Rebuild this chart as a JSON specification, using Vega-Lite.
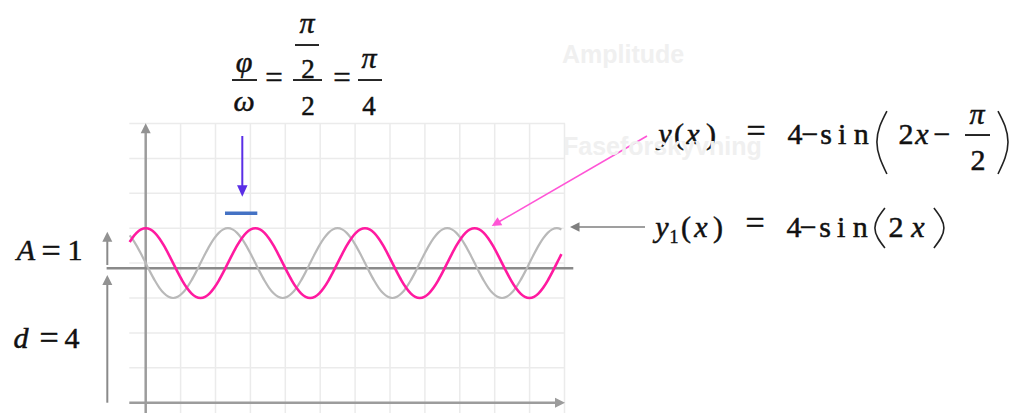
{
  "$schema": "https://vega.github.io/schema/vega-lite/v6.json",
  "width": 1018,
  "height": 413,
  "padding": 0,
  "autosize": {"type": "none"},
  "background": "white",
  "config": {"view": {"stroke": null}},
  "datasets": {
    "curve": [
      {"x": -0.46, "g": 4.7956, "p": 4.6058},
      {"x": -0.3927, "g": 4.7071, "p": 4.7071},
      {"x": -0.2618, "g": 4.5, "p": 4.866},
      {"x": -0.1309, "g": 4.2588, "p": 4.9659},
      {"x": 0, "g": 4, "p": 5},
      {"x": 0.1309, "g": 3.7412, "p": 4.9659},
      {"x": 0.2618, "g": 3.5, "p": 4.866},
      {"x": 0.3927, "g": 3.2929, "p": 4.7071},
      {"x": 0.5236, "g": 3.134, "p": 4.5},
      {"x": 0.6545, "g": 3.0341, "p": 4.2588},
      {"x": 0.7854, "g": 3, "p": 4},
      {"x": 0.9163, "g": 3.0341, "p": 3.7412},
      {"x": 1.0472, "g": 3.134, "p": 3.5},
      {"x": 1.1781, "g": 3.2929, "p": 3.2929},
      {"x": 1.309, "g": 3.5, "p": 3.134},
      {"x": 1.4399, "g": 3.7412, "p": 3.0341},
      {"x": 1.5708, "g": 4, "p": 3},
      {"x": 1.7017, "g": 4.2588, "p": 3.0341},
      {"x": 1.8326, "g": 4.5, "p": 3.134},
      {"x": 1.9635, "g": 4.7071, "p": 3.2929},
      {"x": 2.0944, "g": 4.866, "p": 3.5},
      {"x": 2.2253, "g": 4.9659, "p": 3.7412},
      {"x": 2.3562, "g": 5, "p": 4},
      {"x": 2.4871, "g": 4.9659, "p": 4.2588},
      {"x": 2.618, "g": 4.866, "p": 4.5},
      {"x": 2.7489, "g": 4.7071, "p": 4.7071},
      {"x": 2.8798, "g": 4.5, "p": 4.866},
      {"x": 3.0107, "g": 4.2588, "p": 4.9659},
      {"x": 3.1416, "g": 4, "p": 5},
      {"x": 3.2725, "g": 3.7412, "p": 4.9659},
      {"x": 3.4034, "g": 3.5, "p": 4.866},
      {"x": 3.5343, "g": 3.2929, "p": 4.7071},
      {"x": 3.6652, "g": 3.134, "p": 4.5},
      {"x": 3.7961, "g": 3.0341, "p": 4.2588},
      {"x": 3.927, "g": 3, "p": 4},
      {"x": 4.0579, "g": 3.0341, "p": 3.7412},
      {"x": 4.1888, "g": 3.134, "p": 3.5},
      {"x": 4.3197, "g": 3.2929, "p": 3.2929},
      {"x": 4.4506, "g": 3.5, "p": 3.134},
      {"x": 4.5815, "g": 3.7412, "p": 3.0341},
      {"x": 4.7124, "g": 4, "p": 3},
      {"x": 4.8433, "g": 4.2588, "p": 3.0341},
      {"x": 4.9742, "g": 4.5, "p": 3.134},
      {"x": 5.1051, "g": 4.7071, "p": 3.2929},
      {"x": 5.236, "g": 4.866, "p": 3.5},
      {"x": 5.3669, "g": 4.9659, "p": 3.7412},
      {"x": 5.4978, "g": 5, "p": 4},
      {"x": 5.6287, "g": 4.9659, "p": 4.2588},
      {"x": 5.7596, "g": 4.866, "p": 4.5},
      {"x": 5.8905, "g": 4.7071, "p": 4.7071},
      {"x": 6.0214, "g": 4.5, "p": 4.866},
      {"x": 6.1523, "g": 4.2588, "p": 4.9659},
      {"x": 6.2832, "g": 4, "p": 5},
      {"x": 6.4141, "g": 3.7412, "p": 4.9659},
      {"x": 6.545, "g": 3.5, "p": 4.866},
      {"x": 6.6759, "g": 3.2929, "p": 4.7071},
      {"x": 6.8068, "g": 3.134, "p": 4.5},
      {"x": 6.9377, "g": 3.0341, "p": 4.2588},
      {"x": 7.0686, "g": 3, "p": 4},
      {"x": 7.1995, "g": 3.0341, "p": 3.7412},
      {"x": 7.3304, "g": 3.134, "p": 3.5},
      {"x": 7.4613, "g": 3.2929, "p": 3.2929},
      {"x": 7.5922, "g": 3.5, "p": 3.134},
      {"x": 7.7231, "g": 3.7412, "p": 3.0341},
      {"x": 7.854, "g": 4, "p": 3},
      {"x": 7.9849, "g": 4.2588, "p": 3.0341},
      {"x": 8.1158, "g": 4.5, "p": 3.134},
      {"x": 8.2467, "g": 4.7071, "p": 3.2929},
      {"x": 8.3776, "g": 4.866, "p": 3.5},
      {"x": 8.5085, "g": 4.9659, "p": 3.7412},
      {"x": 8.6394, "g": 5, "p": 4},
      {"x": 8.7703, "g": 4.9659, "p": 4.2588},
      {"x": 8.9012, "g": 4.866, "p": 4.5},
      {"x": 9.0321, "g": 4.7071, "p": 4.7071},
      {"x": 9.163, "g": 4.5, "p": 4.866},
      {"x": 9.2939, "g": 4.2588, "p": 4.9659},
      {"x": 9.4248, "g": 4, "p": 5},
      {"x": 9.5557, "g": 3.7412, "p": 4.9659},
      {"x": 9.6866, "g": 3.5, "p": 4.866},
      {"x": 9.8175, "g": 3.2929, "p": 4.7071},
      {"x": 9.9484, "g": 3.134, "p": 4.5},
      {"x": 10.0793, "g": 3.0341, "p": 4.2588},
      {"x": 10.2102, "g": 3, "p": 4},
      {"x": 10.3411, "g": 3.0341, "p": 3.7412},
      {"x": 10.472, "g": 3.134, "p": 3.5},
      {"x": 10.6029, "g": 3.2929, "p": 3.2929},
      {"x": 10.7338, "g": 3.5, "p": 3.134},
      {"x": 10.8647, "g": 3.7412, "p": 3.0341},
      {"x": 10.9956, "g": 4, "p": 3},
      {"x": 11.1265, "g": 4.2588, "p": 3.0341},
      {"x": 11.2574, "g": 4.5, "p": 3.134},
      {"x": 11.3883, "g": 4.7071, "p": 3.2929},
      {"x": 11.5192, "g": 4.866, "p": 3.5},
      {"x": 11.6501, "g": 4.9659, "p": 3.7412},
      {"x": 11.781, "g": 5, "p": 4},
      {"x": 11.9119, "g": 4.9659, "p": 4.2588}
    ],
    "gridv": [{"x": 1}, {"x": 2}, {"x": 3}, {"x": 4}, {"x": 5}, {"x": 6}, {"x": 7}, {"x": 8}, {"x": 9}, {"x": 10}, {"x": 11}, {"x": 12}],
    "gridh": [{"y": 1}, {"y": 2}, {"y": 3}, {"y": 4}, {"y": 5}, {"y": 6}, {"y": 7}, {"y": 8}],
    "segs": [
      {"k": "axis", "x": 0, "y": -0.3, "x2": 0, "y2": 7.8},
      {"k": "axis", "x": -0.47, "y": 0, "x2": 11.8, "y2": 0},
      {"k": "mid", "x": -1.12, "y": 3.851, "x2": 12.252, "y2": 3.851},
      {"k": "dim", "x": -1.1, "y": 3.946, "x2": -1.1, "y2": 4.7},
      {"k": "dim", "x": -1.1, "y": 0, "x2": -1.1, "y2": 3.45},
      {"k": "blue", "x": 2.768, "y": 7.642, "x2": 2.768, "y2": 6.1},
      {"k": "bar", "x": 2.272, "y": 5.427, "x2": 3.198, "y2": 5.427},
      {"k": "gray", "x": 12.35, "y": 5.034, "x2": 14.307, "y2": 5.034},
      {"k": "pink", "x": 14.364, "y": 7.642, "x2": 10.087, "y2": 5.163},
      {"k": "black", "x": 2.473, "y": 9.246, "x2": 3.189, "y2": 9.246},
      {"k": "black", "x": 4.278, "y": 10.249, "x2": 4.966, "y2": 10.249},
      {"k": "black", "x": 4.221, "y": 9.246, "x2": 5.052, "y2": 9.246},
      {"k": "black", "x": 6.083, "y": 9.246, "x2": 6.771, "y2": 9.246},
      {"k": "black", "x": 23.476, "y": 7.67, "x2": 24.192, "y2": 7.67}
    ],
    "heads": [
      {"k": "up", "x": 0, "y": 8.006},
      {"k": "up", "x": -1.1, "y": 4.9},
      {"k": "up", "x": -1.1, "y": 3.659},
      {"k": "right", "x": 12.014, "y": 0},
      {"k": "down", "x": 2.768, "y": 5.903},
      {"k": "left", "x": 12.158, "y": 5.034},
      {"k": "pink", "x": 9.914, "y": 5.063}
    ],
    "parens": [
      {"g": "a", "i": 0, "x": 21.238, "y": 8.358},
      {"g": "a", "i": 1, "x": 21.037, "y": 7.928},
      {"g": "a", "i": 2, "x": 20.951, "y": 7.47},
      {"g": "a", "i": 3, "x": 21.037, "y": 7.011},
      {"g": "a", "i": 4, "x": 21.238, "y": 6.553},
      {"g": "b", "i": 0, "x": 24.421, "y": 8.358},
      {"g": "b", "i": 1, "x": 24.622, "y": 7.928},
      {"g": "b", "i": 2, "x": 24.708, "y": 7.47},
      {"g": "b", "i": 3, "x": 24.622, "y": 7.011},
      {"g": "b", "i": 4, "x": 24.421, "y": 6.553},
      {"g": "c", "i": 0, "x": 21.181, "y": 5.579},
      {"g": "c", "i": 1, "x": 20.98, "y": 5.292},
      {"g": "c", "i": 2, "x": 20.894, "y": 5.006},
      {"g": "c", "i": 3, "x": 20.98, "y": 4.719},
      {"g": "c", "i": 4, "x": 21.181, "y": 4.433},
      {"g": "d", "i": 0, "x": 22.585, "y": 5.579},
      {"g": "d", "i": 1, "x": 22.785, "y": 5.292},
      {"g": "d", "i": 2, "x": 22.871, "y": 5.006},
      {"g": "d", "i": 3, "x": 22.785, "y": 4.719},
      {"g": "d", "i": 4, "x": 22.585, "y": 4.433}
    ],
    "texts": [
      {"s": "gr", "t": "φ", "x": 2.817, "y": 9.476},
      {"s": "gr", "t": "ω", "x": 2.817, "y": 8.358},
      {"s": "gr", "t": "π", "x": 4.622, "y": 10.593},
      {"s": "gr", "t": "π", "x": 6.398, "y": 9.59},
      {"s": "eq2", "t": "=", "x": 3.676, "y": 9.006},
      {"s": "up25", "t": "2", "x": 4.65, "y": 9.304},
      {"s": "up25", "t": "2", "x": 4.65, "y": 8.244},
      {"s": "eq2", "t": "=", "x": 5.625, "y": 9.006},
      {"s": "up25", "t": "4", "x": 6.398, "y": 8.244},
      {"s": "it27", "t": "y", "x": 14.88, "y": 7.413},
      {"s": "it27", "t": "x", "x": 15.682, "y": 7.413},
      {"s": "it27", "t": "x", "x": 22.244, "y": 7.413},
      {"s": "it27", "t": "π", "x": 23.819, "y": 7.986},
      {"s": "it27", "t": "y", "x": 14.794, "y": 4.748},
      {"s": "it27", "t": "x", "x": 15.911, "y": 4.748},
      {"s": "it27", "t": "x", "x": 22.129, "y": 4.748},
      {"s": "it27", "t": "A", "x": -3.43, "y": 4.089},
      {"s": "it27", "t": "d", "x": -3.573, "y": 1.567},
      {"s": "up27", "t": "(", "x": 15.281, "y": 7.413},
      {"s": "up27", "t": ")", "x": 16.198, "y": 7.413},
      {"s": "eq", "t": "=", "x": 17.487, "y": 7.467},
      {"s": "up27", "t": "4", "x": 18.605, "y": 7.413},
      {"s": "up27", "t": "−", "x": 19.034, "y": 7.413},
      {"s": "up27", "t": "s", "x": 19.497, "y": 7.413},
      {"s": "up27", "t": "i", "x": 19.956, "y": 7.413},
      {"s": "up27", "t": "n", "x": 20.501, "y": 7.413},
      {"s": "up27", "t": "2", "x": 21.785, "y": 7.413},
      {"s": "up27", "t": "−", "x": 22.817, "y": 7.413},
      {"s": "up27", "t": "2", "x": 23.848, "y": 6.668},
      {"s": "up27", "t": "(", "x": 15.481, "y": 4.748},
      {"s": "up27", "t": ")", "x": 16.398, "y": 4.748},
      {"s": "eq", "t": "=", "x": 17.458, "y": 4.828},
      {"s": "up27", "t": "4", "x": 18.576, "y": 4.748},
      {"s": "up27", "t": "−", "x": 18.98, "y": 4.748},
      {"s": "up27", "t": "s", "x": 19.47, "y": 4.748},
      {"s": "up27", "t": "i", "x": 19.928, "y": 4.748},
      {"s": "up27", "t": "n", "x": 20.473, "y": 4.748},
      {"s": "up27", "t": "2", "x": 21.499, "y": 4.748},
      {"s": "eq", "t": "=", "x": -2.713, "y": 4.04},
      {"s": "up27", "t": "1", "x": -2.026, "y": 4.089},
      {"s": "eq", "t": "=", "x": -2.771, "y": 1.533},
      {"s": "up27", "t": "4", "x": -2.112, "y": 1.567},
      {"s": "sub", "t": "1", "x": 15.138, "y": 4.576},
      {"s": "faint", "t": "Amplitude", "x": 11.928, "y": 9.733},
      {"s": "faint", "t": "Faseforskyvning", "x": 11.957, "y": 7.097}
    ]
  },
  "layer": [
    {
      "data": {"name": "gridv"},
      "mark": {"type": "rule", "color": "#ebebeb", "strokeWidth": 1.5},
      "encoding": {
        "x": {"field": "x", "type": "quantitative", "scale": {"domain": [-4.1748, 24.9943], "nice": false, "zero": false}, "axis": null},
        "y": {"datum": -0.3, "type": "quantitative", "scale": {"domain": [-0.2951, 11.5387], "nice": false, "zero": false}, "axis": null},
        "y2": {"datum": 8.006}
      }
    },
    {
      "data": {"name": "gridh"},
      "mark": {"type": "rule", "color": "#ebebeb", "strokeWidth": 1.5},
      "encoding": {
        "y": {"field": "y", "type": "quantitative", "scale": {"domain": [-0.2951, 11.5387], "nice": false, "zero": false}, "axis": null},
        "x": {"datum": -0.47, "type": "quantitative", "scale": {"domain": [-4.1748, 24.9943], "nice": false, "zero": false}, "axis": null},
        "x2": {"datum": 12.014}
      }
    },
    {
      "data": {"name": "segs"},
      "transform": [{"filter": "datum.k === 'axis'"}],
      "mark": {"type": "rule", "color": "#9c9c9c", "strokeWidth": 2.5},
      "encoding": {
        "x": {"field": "x", "type": "quantitative", "scale": {"domain": [-4.1748, 24.9943], "nice": false, "zero": false}, "axis": null},
        "y": {"field": "y", "type": "quantitative", "scale": {"domain": [-0.2951, 11.5387], "nice": false, "zero": false}, "axis": null},
        "x2": {"field": "x2"},
        "y2": {"field": "y2"}
      }
    },
    {
      "data": {"name": "segs"},
      "transform": [{"filter": "datum.k === 'mid'"}],
      "mark": {"type": "rule", "color": "#8a8a8a", "strokeWidth": 2.5},
      "encoding": {
        "x": {"field": "x", "type": "quantitative", "scale": {"domain": [-4.1748, 24.9943], "nice": false, "zero": false}, "axis": null},
        "y": {"field": "y", "type": "quantitative", "scale": {"domain": [-0.2951, 11.5387], "nice": false, "zero": false}, "axis": null},
        "x2": {"field": "x2"},
        "y2": {"field": "y2"}
      }
    },
    {
      "data": {"name": "segs"},
      "transform": [{"filter": "datum.k === 'dim'"}],
      "mark": {"type": "rule", "color": "#8a8a8a", "strokeWidth": 2},
      "encoding": {
        "x": {"field": "x", "type": "quantitative", "scale": {"domain": [-4.1748, 24.9943], "nice": false, "zero": false}, "axis": null},
        "y": {"field": "y", "type": "quantitative", "scale": {"domain": [-0.2951, 11.5387], "nice": false, "zero": false}, "axis": null},
        "x2": {"field": "x2"},
        "y2": {"field": "y2"}
      }
    },
    {
      "data": {"name": "curve"},
      "mark": {"type": "line", "color": "#b9b9b9", "strokeWidth": 2.2, "interpolate": "monotone"},
      "encoding": {
        "x": {"field": "x", "type": "quantitative", "scale": {"domain": [-4.1748, 24.9943], "nice": false, "zero": false}, "axis": null},
        "y": {"field": "g", "type": "quantitative", "scale": {"domain": [-0.2951, 11.5387], "nice": false, "zero": false}, "axis": null}
      }
    },
    {
      "data": {"name": "curve"},
      "mark": {"type": "line", "color": "#ff1aa0", "strokeWidth": 2.6, "interpolate": "monotone"},
      "encoding": {
        "x": {"field": "x", "type": "quantitative", "scale": {"domain": [-4.1748, 24.9943], "nice": false, "zero": false}, "axis": null},
        "y": {"field": "p", "type": "quantitative", "scale": {"domain": [-0.2951, 11.5387], "nice": false, "zero": false}, "axis": null}
      }
    },
    {
      "data": {"name": "segs"},
      "transform": [{"filter": "datum.k === 'blue'"}],
      "mark": {"type": "rule", "color": "#5a2ee6", "strokeWidth": 2},
      "encoding": {
        "x": {"field": "x", "type": "quantitative", "scale": {"domain": [-4.1748, 24.9943], "nice": false, "zero": false}, "axis": null},
        "y": {"field": "y", "type": "quantitative", "scale": {"domain": [-0.2951, 11.5387], "nice": false, "zero": false}, "axis": null},
        "x2": {"field": "x2"},
        "y2": {"field": "y2"}
      }
    },
    {
      "data": {"name": "segs"},
      "transform": [{"filter": "datum.k === 'bar'"}],
      "mark": {"type": "rule", "color": "#4472c4", "strokeWidth": 3.5},
      "encoding": {
        "x": {"field": "x", "type": "quantitative", "scale": {"domain": [-4.1748, 24.9943], "nice": false, "zero": false}, "axis": null},
        "y": {"field": "y", "type": "quantitative", "scale": {"domain": [-0.2951, 11.5387], "nice": false, "zero": false}, "axis": null},
        "x2": {"field": "x2"},
        "y2": {"field": "y2"}
      }
    },
    {
      "data": {"name": "segs"},
      "transform": [{"filter": "datum.k === 'gray'"}],
      "mark": {"type": "rule", "color": "#7f7f7f", "strokeWidth": 1.5},
      "encoding": {
        "x": {"field": "x", "type": "quantitative", "scale": {"domain": [-4.1748, 24.9943], "nice": false, "zero": false}, "axis": null},
        "y": {"field": "y", "type": "quantitative", "scale": {"domain": [-0.2951, 11.5387], "nice": false, "zero": false}, "axis": null},
        "x2": {"field": "x2"},
        "y2": {"field": "y2"}
      }
    },
    {
      "data": {"name": "segs"},
      "transform": [{"filter": "datum.k === 'pink'"}],
      "mark": {"type": "rule", "color": "#ff55d6", "strokeWidth": 1.6},
      "encoding": {
        "x": {"field": "x", "type": "quantitative", "scale": {"domain": [-4.1748, 24.9943], "nice": false, "zero": false}, "axis": null},
        "y": {"field": "y", "type": "quantitative", "scale": {"domain": [-0.2951, 11.5387], "nice": false, "zero": false}, "axis": null},
        "x2": {"field": "x2"},
        "y2": {"field": "y2"}
      }
    },
    {
      "data": {"name": "segs"},
      "transform": [{"filter": "datum.k === 'black'"}],
      "mark": {"type": "rule", "color": "#111111", "strokeWidth": 1.8},
      "encoding": {
        "x": {"field": "x", "type": "quantitative", "scale": {"domain": [-4.1748, 24.9943], "nice": false, "zero": false}, "axis": null},
        "y": {"field": "y", "type": "quantitative", "scale": {"domain": [-0.2951, 11.5387], "nice": false, "zero": false}, "axis": null},
        "x2": {"field": "x2"},
        "y2": {"field": "y2"}
      }
    },
    {
      "data": {"name": "heads"},
      "transform": [{"filter": "datum.k === 'up'"}],
      "mark": {"type": "point", "shape": "M0,0L-1,2L1,2Z", "size": 100, "filled": true, "color": "#929292", "opacity": 1, "angle": 0},
      "encoding": {
        "x": {"field": "x", "type": "quantitative", "scale": {"domain": [-4.1748, 24.9943], "nice": false, "zero": false}, "axis": null},
        "y": {"field": "y", "type": "quantitative", "scale": {"domain": [-0.2951, 11.5387], "nice": false, "zero": false}, "axis": null}
      }
    },
    {
      "data": {"name": "heads"},
      "transform": [{"filter": "datum.k === 'right'"}],
      "mark": {"type": "point", "shape": "M0,0L-1,2L1,2Z", "size": 100, "filled": true, "color": "#9c9c9c", "opacity": 1, "angle": 90},
      "encoding": {
        "x": {"field": "x", "type": "quantitative", "scale": {"domain": [-4.1748, 24.9943], "nice": false, "zero": false}, "axis": null},
        "y": {"field": "y", "type": "quantitative", "scale": {"domain": [-0.2951, 11.5387], "nice": false, "zero": false}, "axis": null}
      }
    },
    {
      "data": {"name": "heads"},
      "transform": [{"filter": "datum.k === 'down'"}],
      "mark": {"type": "point", "shape": "M0,0L-1,2.2L1,2.2Z", "size": 110, "filled": true, "color": "#5a2ee6", "opacity": 1, "angle": 180},
      "encoding": {
        "x": {"field": "x", "type": "quantitative", "scale": {"domain": [-4.1748, 24.9943], "nice": false, "zero": false}, "axis": null},
        "y": {"field": "y", "type": "quantitative", "scale": {"domain": [-0.2951, 11.5387], "nice": false, "zero": false}, "axis": null}
      }
    },
    {
      "data": {"name": "heads"},
      "transform": [{"filter": "datum.k === 'left'"}],
      "mark": {"type": "point", "shape": "M0,0L-1,2L1,2Z", "size": 90, "filled": true, "color": "#7f7f7f", "opacity": 1, "angle": 270},
      "encoding": {
        "x": {"field": "x", "type": "quantitative", "scale": {"domain": [-4.1748, 24.9943], "nice": false, "zero": false}, "axis": null},
        "y": {"field": "y", "type": "quantitative", "scale": {"domain": [-0.2951, 11.5387], "nice": false, "zero": false}, "axis": null}
      }
    },
    {
      "data": {"name": "heads"},
      "transform": [{"filter": "datum.k === 'pink'"}],
      "mark": {"type": "point", "shape": "M0,0L-1,2L1,2Z", "size": 90, "filled": true, "color": "#ff55d6", "opacity": 1, "angle": 240},
      "encoding": {
        "x": {"field": "x", "type": "quantitative", "scale": {"domain": [-4.1748, 24.9943], "nice": false, "zero": false}, "axis": null},
        "y": {"field": "y", "type": "quantitative", "scale": {"domain": [-0.2951, 11.5387], "nice": false, "zero": false}, "axis": null}
      }
    },
    {
      "data": {"name": "parens"},
      "mark": {"type": "line", "color": "#222222", "strokeWidth": 1.6, "interpolate": "natural"},
      "encoding": {
        "x": {"field": "x", "type": "quantitative", "scale": {"domain": [-4.1748, 24.9943], "nice": false, "zero": false}, "axis": null},
        "y": {"field": "y", "type": "quantitative", "scale": {"domain": [-0.2951, 11.5387], "nice": false, "zero": false}, "axis": null},
        "detail": {"field": "g", "type": "nominal"},
        "order": {"field": "i", "type": "quantitative"}
      }
    },
    {
      "data": {"name": "texts"},
      "transform": [{"filter": "datum.s === 'gr'"}],
      "mark": {"type": "text", "font": "Liberation Serif", "fontStyle": "italic", "fontSize": 30, "align": "center", "baseline": "alphabetic", "color": "#111111", "stroke": "#111111", "strokeWidth": 0.5},
      "encoding": {
        "x": {"field": "x", "type": "quantitative", "scale": {"domain": [-4.1748, 24.9943], "nice": false, "zero": false}, "axis": null},
        "y": {"field": "y", "type": "quantitative", "scale": {"domain": [-0.2951, 11.5387], "nice": false, "zero": false}, "axis": null},
        "text": {"field": "t", "type": "nominal"}
      }
    },
    {
      "data": {"name": "texts"},
      "transform": [{"filter": "datum.s === 'up25'"}],
      "mark": {"type": "text", "font": "Liberation Serif", "fontSize": 27, "align": "center", "baseline": "alphabetic", "color": "#111111", "stroke": "#111111", "strokeWidth": 0.5},
      "encoding": {
        "x": {"field": "x", "type": "quantitative", "scale": {"domain": [-4.1748, 24.9943], "nice": false, "zero": false}, "axis": null},
        "y": {"field": "y", "type": "quantitative", "scale": {"domain": [-0.2951, 11.5387], "nice": false, "zero": false}, "axis": null},
        "text": {"field": "t", "type": "nominal"}
      }
    },
    {
      "data": {"name": "texts"},
      "transform": [{"filter": "datum.s === 'eq2'"}],
      "mark": {"type": "text", "font": "Liberation Serif", "fontSize": 31, "align": "center", "baseline": "alphabetic", "color": "#111111", "stroke": "#111111", "strokeWidth": 0.5},
      "encoding": {
        "x": {"field": "x", "type": "quantitative", "scale": {"domain": [-4.1748, 24.9943], "nice": false, "zero": false}, "axis": null},
        "y": {"field": "y", "type": "quantitative", "scale": {"domain": [-0.2951, 11.5387], "nice": false, "zero": false}, "axis": null},
        "text": {"field": "t", "type": "nominal"}
      }
    },
    {
      "data": {"name": "texts"},
      "transform": [{"filter": "datum.s === 'eq'"}],
      "mark": {"type": "text", "font": "Liberation Serif", "fontSize": 34, "align": "center", "baseline": "alphabetic", "color": "#111111", "stroke": "#111111", "strokeWidth": 0.5},
      "encoding": {
        "x": {"field": "x", "type": "quantitative", "scale": {"domain": [-4.1748, 24.9943], "nice": false, "zero": false}, "axis": null},
        "y": {"field": "y", "type": "quantitative", "scale": {"domain": [-0.2951, 11.5387], "nice": false, "zero": false}, "axis": null},
        "text": {"field": "t", "type": "nominal"}
      }
    },
    {
      "data": {"name": "texts"},
      "transform": [{"filter": "datum.s === 'it27'"}],
      "mark": {"type": "text", "font": "Liberation Serif", "fontStyle": "italic", "fontSize": 30, "align": "center", "baseline": "alphabetic", "color": "#111111", "stroke": "#111111", "strokeWidth": 0.5},
      "encoding": {
        "x": {"field": "x", "type": "quantitative", "scale": {"domain": [-4.1748, 24.9943], "nice": false, "zero": false}, "axis": null},
        "y": {"field": "y", "type": "quantitative", "scale": {"domain": [-0.2951, 11.5387], "nice": false, "zero": false}, "axis": null},
        "text": {"field": "t", "type": "nominal"}
      }
    },
    {
      "data": {"name": "texts"},
      "transform": [{"filter": "datum.s === 'up27'"}],
      "mark": {"type": "text", "font": "Liberation Serif", "fontSize": 30, "align": "center", "baseline": "alphabetic", "color": "#111111", "stroke": "#111111", "strokeWidth": 0.5},
      "encoding": {
        "x": {"field": "x", "type": "quantitative", "scale": {"domain": [-4.1748, 24.9943], "nice": false, "zero": false}, "axis": null},
        "y": {"field": "y", "type": "quantitative", "scale": {"domain": [-0.2951, 11.5387], "nice": false, "zero": false}, "axis": null},
        "text": {"field": "t", "type": "nominal"}
      }
    },
    {
      "data": {"name": "texts"},
      "transform": [{"filter": "datum.s === 'sub'"}],
      "mark": {"type": "text", "font": "Liberation Serif", "fontSize": 18, "align": "center", "baseline": "alphabetic", "color": "#111111", "stroke": "#111111", "strokeWidth": 0.4},
      "encoding": {
        "x": {"field": "x", "type": "quantitative", "scale": {"domain": [-4.1748, 24.9943], "nice": false, "zero": false}, "axis": null},
        "y": {"field": "y", "type": "quantitative", "scale": {"domain": [-0.2951, 11.5387], "nice": false, "zero": false}, "axis": null},
        "text": {"field": "t", "type": "nominal"}
      }
    },
    {
      "data": {"name": "texts"},
      "transform": [{"filter": "datum.s === 'faint'"}],
      "mark": {"type": "text", "font": "Liberation Sans", "fontWeight": "bold", "fontSize": 25, "align": "left", "baseline": "alphabetic", "color": "#f0f0f0"},
      "encoding": {
        "x": {"field": "x", "type": "quantitative", "scale": {"domain": [-4.1748, 24.9943], "nice": false, "zero": false}, "axis": null},
        "y": {"field": "y", "type": "quantitative", "scale": {"domain": [-0.2951, 11.5387], "nice": false, "zero": false}, "axis": null},
        "text": {"field": "t", "type": "nominal"}
      }
    }
  ]
}
